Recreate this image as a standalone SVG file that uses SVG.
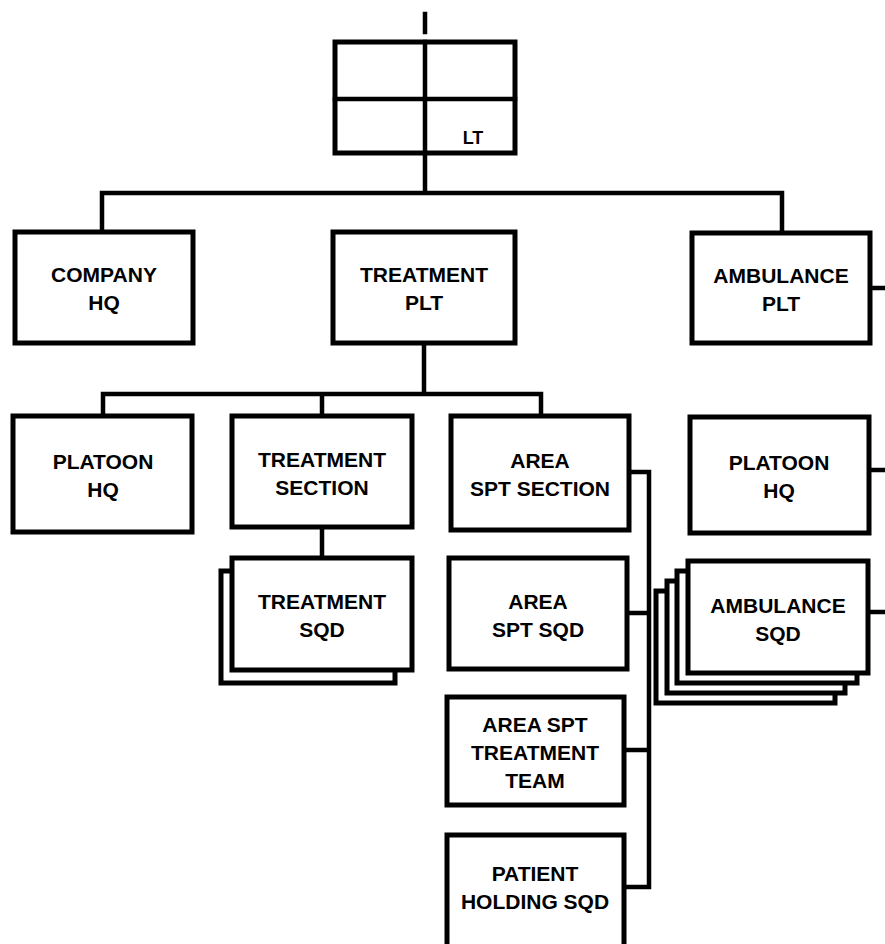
<svg xmlns="http://www.w3.org/2000/svg" width="885" height="944" viewBox="0 0 885 944">
<style>
.box{fill:#fff;stroke:#000;stroke-width:5;stroke-linejoin:miter}
.ln{fill:none;stroke:#000;stroke-width:4.5;stroke-linecap:square}
text{font-family:"Liberation Sans",Arial,sans-serif;font-weight:bold;font-size:21px;fill:#000;text-anchor:middle}
text.lt{font-size:18px}
</style>
<rect width="885" height="944" fill="#fff"/>
<g id="connectors">
<path class="ln" d="M425 14V32"/>
<path class="ln" d="M425 153V193M102 232V193H782V233"/>
<path class="ln" d="M424 343V394M103 416V394H541V416M322 394V416"/>
<path class="ln" d="M322 527V558"/>
<path class="ln" d="M629 472H649V887H624M627 613H649M624 750H649"/>
<path class="ln" d="M870 288H885M869 470H885M868 612H885"/>
</g>
<g id="top">
<rect class="box" x="335" y="42" width="180" height="111"/>
<path class="ln" d="M335 99H515M425 42V153"/>
<text class="lt" x="473" y="144">LT</text>
</g>
<g id="company-hq">
<rect class="box" x="15" y="232" width="178" height="111"/>
<text x="104" y="282">COMPANY</text><text x="104" y="310">HQ</text>
</g>
<g id="treatment-plt">
<rect class="box" x="333" y="232" width="182" height="111"/>
<text x="424" y="282">TREATMENT</text><text x="424" y="310">PLT</text>
</g>
<g id="ambulance-plt">
<rect class="box" x="692" y="233" width="178" height="110"/>
<text x="781" y="283">AMBULANCE</text><text x="781" y="311">PLT</text>
</g>
<g id="platoon-hq-1">
<rect class="box" x="13" y="416" width="179" height="116"/>
<text x="103" y="469">PLATOON</text><text x="103" y="497">HQ</text>
</g>
<g id="treatment-section">
<rect class="box" x="232" y="416" width="180" height="111"/>
<text x="322" y="467">TREATMENT</text><text x="322" y="495">SECTION</text>
</g>
<g id="area-spt-section">
<rect class="box" x="451" y="416" width="178" height="114"/>
<text x="540" y="468">AREA</text><text x="540" y="496">SPT SECTION</text>
</g>
<g id="platoon-hq-2">
<rect class="box" x="690" y="417" width="179" height="116"/>
<text x="779" y="470">PLATOON</text><text x="779" y="498">HQ</text>
</g>
<g id="treatment-sqd">
<rect class="box" x="221" y="571" width="174" height="112"/>
<rect class="box" x="232" y="558" width="180" height="112"/>
<text x="322" y="609">TREATMENT</text><text x="322" y="637">SQD</text>
</g>
<g id="area-spt-sqd">
<rect class="box" x="449" y="558" width="178" height="111"/>
<text x="538" y="609">AREA</text><text x="538" y="637">SPT SQD</text>
</g>
<g id="ambulance-sqd">
<rect class="box" x="656" y="591" width="179" height="112"/>
<rect class="box" x="667" y="581" width="178" height="112"/>
<rect class="box" x="677" y="571" width="180" height="112"/>
<rect class="box" x="688" y="561" width="180" height="112"/>
<text x="778" y="613">AMBULANCE</text><text x="778" y="641">SQD</text>
</g>
<g id="area-spt-treatment-team">
<rect class="box" x="447" y="697" width="177" height="108"/>
<text x="535" y="732">AREA SPT</text><text x="535" y="760">TREATMENT</text><text x="535" y="788">TEAM</text>
</g>
<g id="patient-holding-sqd">
<rect class="box" x="447" y="835" width="177" height="130"/>
<text x="535" y="881">PATIENT</text><text x="535" y="909">HOLDING SQD</text>
</g>
</svg>
